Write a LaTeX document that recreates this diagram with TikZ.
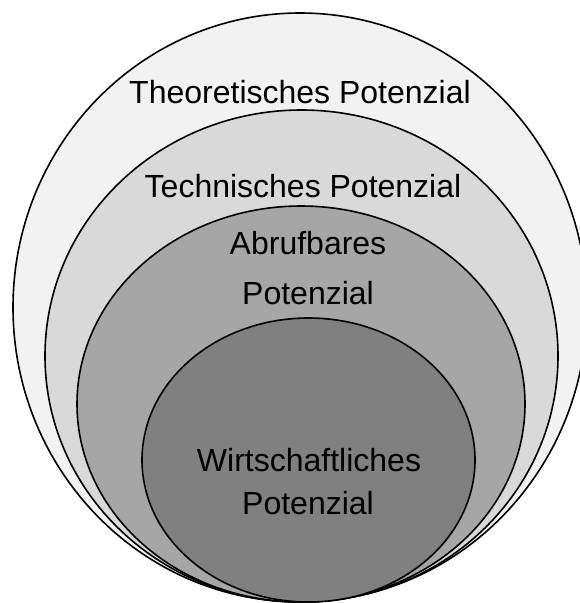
\documentclass[tikz,border=0pt]{standalone}
\usepackage{fontspec}
\setmainfont{Liberation Sans}
\definecolor{ringA}{HTML}{F2F2F2}
\definecolor{ringB}{HTML}{D9D9D9}
\definecolor{ringC}{HTML}{A6A6A6}
\definecolor{ringD}{HTML}{808080}
\begin{document}
\begin{tikzpicture}[x=1pt,y=-1pt,
  ring/.style={draw=black,line width=1.6pt},
  lbl/.style={font=\fontsize{32}{38}\selectfont, anchor=base, inner sep=0pt}]
\useasboundingbox (0,0) rectangle (580,603);
\fill[white] (0,0) rectangle (580,603);
\begin{scope}
\clip (0,0) rectangle (580,603);
\draw[ring, fill=ringA] (300,307.5) ellipse [x radius=287, y radius=294.5];
\draw[ring, fill=ringB] (301.5,356) ellipse [x radius=256.5, y radius=246];
\draw[ring, fill=ringC] (301,404) ellipse [x radius=224, y radius=198];
\draw[ring, fill=ringD] (308.5,460) ellipse [x radius=166.5, y radius=142];
\end{scope}
\node[lbl] (theo) at (300,103) {Theoretisches Potenzial};
\node[lbl] (tech) at (303,197) {Technisches Potenzial};
\node[lbl] (abr1) at (308,254) {Abrufbares};
\node[lbl] (abr2) at (308,304) {Potenzial};
\node[lbl] (wir1) at (309,471) {Wirtschaftliches};
\node[lbl] (wir2) at (308,514) {Potenzial};
\end{tikzpicture}
\end{document}
